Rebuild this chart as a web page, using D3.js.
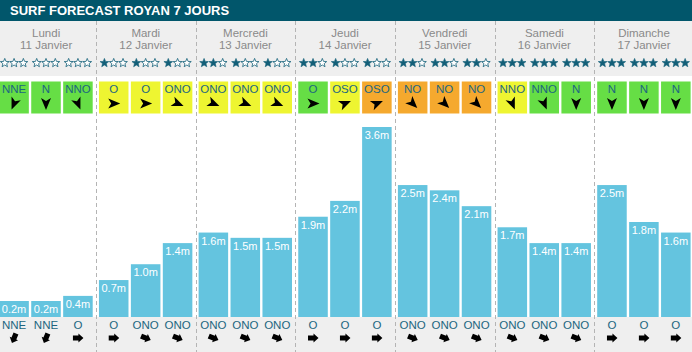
<!DOCTYPE html>
<html>
<head>
<meta charset="utf-8">
<script src="https://cdn.jsdelivr.net/npm/d3@7"></script>
<style>
  body { margin: 0; background: #fff; }
  svg { display: block; font-family: "Liberation Sans", Arial, sans-serif; }
</style>
</head>
<body>
<svg id="surf" width="692" height="352"></svg>
<script>
(function () {

    var title = "SURF FORECAST ROYAN 7 JOURS";
    var days = ["Lundi", "Mardi", "Mercredi", "Jeudi", "Vendredi", "Samedi", "Dimanche"];
    var dates = ["11 Janvier", "12 Janvier", "13 Janvier", "14 Janvier", "15 Janvier", "16 Janvier", "17 Janvier"];

    // 3 slots per day
    var stars = [[0, 0, 0], [1, 1, 1], [2, 1, 1], [2, 1, 1], [2, 2, 2], [3, 3, 3], [3, 3, 3]];
    var windDir = [["NNE", "N", "NNO"], ["O", "O", "ONO"], ["ONO", "ONO", "ONO"], ["O", "OSO", "OSO"],
                   ["NO", "NO", "NO"], ["NNO", "NNO", "N"], ["N", "N", "N"]];
    // 0 = good (green), 1 = medium (yellow), 2 = bad (orange)
    var windLevel = [[0, 0, 0], [1, 1, 1], [1, 1, 1], [0, 1, 2], [2, 2, 2], [1, 0, 0], [0, 0, 0]];
    var height = [[0.2, 0.2, 0.4], [0.7, 1.0, 1.4], [1.6, 1.5, 1.5], [1.9, 2.2, 3.6],
                  [2.5, 2.4, 2.1], [1.7, 1.4, 1.4], [2.5, 1.8, 1.6]];
    var swellDir = [["NNE", "NNE", "O"], ["O", "ONO", "ONO"], ["ONO", "ONO", "ONO"], ["O", "O", "O"],
                    ["ONO", "ONO", "ONO"], ["ONO", "ONO", "ONO"], ["O", "O", "O"]];

    var compass = {N: 0, NNE: 22.5, NE: 45, ENE: 67.5, E: 90, ESE: 112.5, SE: 135, SSE: 157.5,
                   S: 180, SSO: 202.5, SO: 225, OSO: 247.5, O: 270, ONO: 292.5, NO: 315, NNO: 337.5};
    var windColors = ["#66de45", "#eef531", "#f5a92e"];

    var svg = d3.select("#surf"),
        W = +svg.attr("width"),
        H = +svg.attr("height");

    var colW = 99.65;
    var x = d3.scaleBand().domain(days).range([-3.7, -3.7 + 7 * colW]);
    var xs = d3.scaleBand().domain([0, 1, 2]).range([3, 96.4]).paddingInner(0.075);
    var y = d3.scaleLinear().domain([0, 3.6]).range([317, 127]);

    var cells = [];
    days.forEach(function (d, i) {
        for (var k = 0; k < 3; k++) {
            cells.push({day: d, i: i, k: k, stars: stars[i][k], wind: windDir[i][k], level: windLevel[i][k],
                        h: height[i][k], swell: swellDir[i][k]});
        }
    });
    function cx(c) { return x(c.day) + xs(c.k); }
    function cmid(c) { return cx(c) + xs.bandwidth() / 2; }

    // backgrounds
    svg.append("rect").attr("width", W).attr("height", 21).attr("fill", "#01566b");
    svg.append("rect").attr("y", 21).attr("width", W).attr("height", 55).attr("fill", "#efefef");
    svg.append("rect").attr("y", 317).attr("width", W).attr("height", H - 317).attr("fill", "#efefef");

    svg.append("text")
        .attr("x", 10).attr("y", 15)
        .attr("fill", "#fff")
        .style("font-size", "13px").style("font-weight", "bold")
        .text(title);

    // day headers
    var head = svg.append("g").attr("fill", "#8a8a8a").style("font-size", "11.5px").attr("text-anchor", "middle");
    head.selectAll(".day").data(days).enter().append("text")
        .attr("x", function (d) { return x(d) + colW / 2; })
        .attr("y", 37)
        .text(function (d) { return d; });
    head.selectAll(".date").data(days).enter().append("text")
        .attr("x", function (d) { return x(d) + colW / 2; })
        .attr("y", 49)
        .text(function (d, i) { return dates[i]; });

    // stars
    function starPath(R, r) {
        var p = [];
        for (var j = 0; j < 10; j++) {
            var a = -Math.PI / 2 + j * Math.PI / 5, rr = j % 2 ? r : R;
            p.push([rr * Math.cos(a), rr * Math.sin(a)]);
        }
        return "M" + p.join("L") + "Z";
    }
    var sp = starPath(4.6, 2);
    cells.forEach(function (c) {
        for (var j = 0; j < 3; j++) {
            var filled = j < c.stars;
            svg.append("path")
                .attr("d", sp)
                .attr("transform", "translate(" + (cmid(c) + (j - 1) * 9.3) + ",63)")
                .attr("fill", filled ? "#135f78" : "#fff")
                .attr("stroke", "#135f78")
                .attr("stroke-width", filled ? 0.6 : 0.8);
        }
    });

    // wind boxes
    var wind = svg.append("g");
    wind.selectAll("rect").data(cells).enter().append("rect")
        .attr("x", cx).attr("y", 81.5)
        .attr("width", xs.bandwidth()).attr("height", 32)
        .attr("fill", function (c) { return windColors[c.level]; });
    wind.selectAll("text").data(cells).enter().append("text")
        .attr("x", cmid).attr("y", 93)
        .attr("text-anchor", "middle")
        .attr("fill", "#1c6680")
        .style("font-size", "11.5px")
        .text(function (c) { return c.wind; });
    wind.selectAll("path").data(cells).enter().append("path")
        .attr("d", "M0,-6.5L5,5.5L0,2.5L-5,5.5Z")
        .attr("fill", "#000")
        .attr("transform", function (c) {
            return "translate(" + cmid(c) + ",103.5) rotate(" + (compass[c.wind] + 180) + ")";
        });

    // swell bars
    function top(c) { return Math.min(y(c.h), y(0) - 16); }
    var bars = svg.append("g");
    bars.selectAll("rect").data(cells).enter().append("rect")
        .attr("x", cx).attr("y", top)
        .attr("width", xs.bandwidth())
        .attr("height", function (c) { return y(0) - top(c); })
        .attr("fill", "#64c4df");
    bars.selectAll("text").data(cells).enter().append("text")
        .attr("x", cmid).attr("y", function (c) { return top(c) + 12; })
        .attr("text-anchor", "middle")
        .attr("fill", "#fff")
        .style("font-size", "11px")
        .text(function (c) { return c.h.toFixed(1) + "m"; });

    // swell direction
    var sw = svg.append("g");
    sw.selectAll("text").data(cells).enter().append("text")
        .attr("x", cmid).attr("y", 329)
        .attr("text-anchor", "middle")
        .attr("fill", "#1c6680")
        .style("font-size", "11.5px")
        .text(function (c) { return c.swell; });
    sw.selectAll("path").data(cells).enter().append("path")
        .attr("d", "M0,-5.5L4.5,-0.5L2.6,-0.5L2.6,5L-2.6,5L-2.6,-0.5L-4.5,-0.5Z")
        .attr("fill", "#000")
        .attr("transform", function (c) {
            return "translate(" + cmid(c) + ",338) rotate(" + (compass[c.swell] + 180) + ")";
        });

    // day separators
    svg.selectAll(".sep").data(days.slice(1)).enter().append("line")
        .attr("x1", function (d) { return Math.round(x(d)) + 0.5; })
        .attr("x2", function (d) { return Math.round(x(d)) + 0.5; })
        .attr("y1", 21).attr("y2", H)
        .attr("stroke", "#b4b4b4")
        .attr("stroke-dasharray", "4,3");

})();
</script>
</body>
</html>
